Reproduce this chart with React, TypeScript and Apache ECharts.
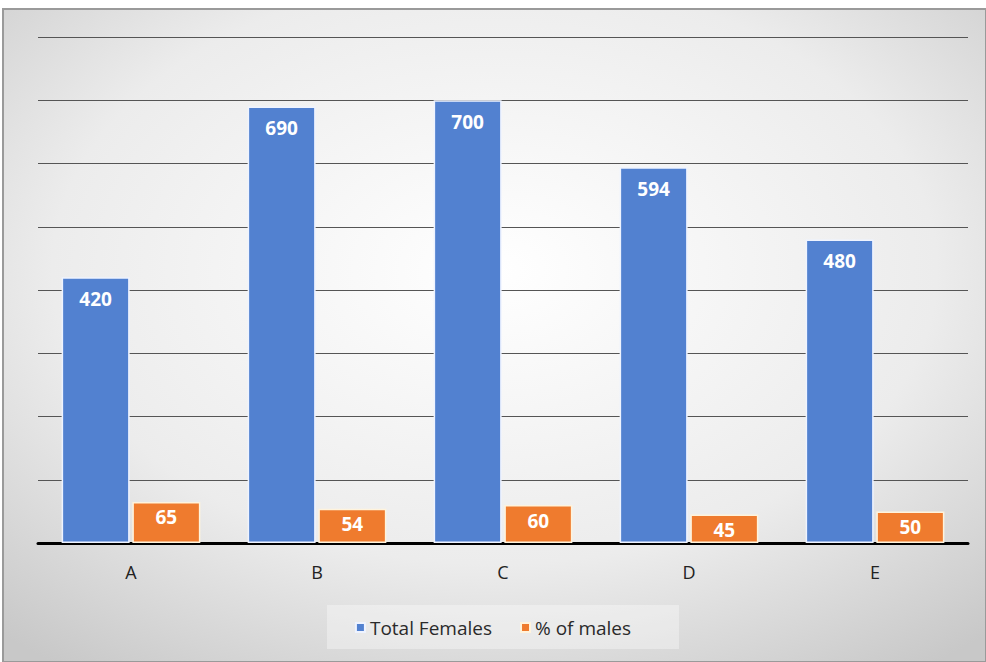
import React, { useEffect, useRef } from "react";
import * as echarts from "echarts";

const categories = ["A", "B", "C", "D", "E"];
const totalFemales = [420, 690, 700, 594, 480];
const percentMales = [65, 54, 60, 45, 50];
const seriesNames = ["Total Females", "% of males"];

export default function App() {
  const ref = useRef<HTMLDivElement>(null);
  useEffect(() => {
    if (!ref.current) return;
    const chart = echarts.init(ref.current, undefined, { renderer: "svg" });
    const labelStyle = {
      show: true,
      position: "insideTop" as const,
      distance: 12,
      color: "#ffffff",
      fontWeight: "bold" as const,
      fontSize: 19,
      fontFamily: "Open Sans",
    };
    chart.setOption({
      animation: false,
      backgroundColor: "transparent",
      graphic: [
        {
          type: "rect",
          z: -10,
          shape: { x: 3, y: 9, width: 983, height: 653 },
          style: {
            fill: new echarts.graphic.RadialGradient(0.5, 0.4, 0.75, [
              { offset: 0, color: "#ffffff" },
              { offset: 0.6, color: "#ececec" },
              { offset: 1, color: "#c8c8c8" },
            ]),
            stroke: "#9a9a9a",
            lineWidth: 2,
          },
        },
        {
          type: "rect",
          z: -5,
          shape: { x: 327, y: 605, width: 352, height: 44 },
          style: { fill: "rgba(255,255,255,0.35)" },
        },
      ],
      grid: { left: 38, right: 18, top: 37, bottom: 119 },
      legend: {
        data: seriesNames,
        bottom: 20,
        left: "center",
        itemWidth: 9,
        itemHeight: 9,
        itemGap: 28,
        icon: "rect",
        textStyle: { fontSize: 19, color: "#2a2a2a", fontFamily: "Open Sans" },
      },
      xAxis: {
        type: "category",
        data: categories,
        axisLine: { lineStyle: { color: "#000000", width: 3 } },
        axisTick: { show: false },
        axisLabel: { fontSize: 18, color: "#222222", margin: 20, fontFamily: "Open Sans" },
      },
      yAxis: {
        type: "value",
        min: 0,
        max: 800,
        interval: 100,
        axisLabel: { show: false },
        axisLine: { show: false },
        axisTick: { show: false },
        splitLine: { lineStyle: { color: "#555555", width: 1 } },
      },
      series: [
        {
          name: seriesNames[0],
          type: "bar",
          data: totalFemales,
          barWidth: 68,
          barGap: "4%",
          itemStyle: { color: "#5281d0", borderColor: "#eef3ff", borderWidth: 1.5 },
          label: labelStyle,
        },
        {
          name: seriesNames[1],
          type: "bar",
          data: percentMales,
          barWidth: 68,
          itemStyle: { color: "#ef7b2e", borderColor: "#fff3dc", borderWidth: 1.5 },
          label: { ...labelStyle, distance: 6 },
        },
      ],
    });
    return () => chart.dispose();
  }, []);
  return <div ref={ref} style={{ width: 986, height: 662, position: "absolute", left: 0, top: 0 }} />;
}
